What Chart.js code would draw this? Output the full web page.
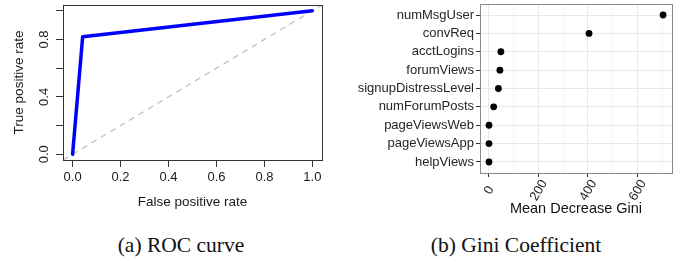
<!DOCTYPE html>
<html>
<head>
<meta charset="utf-8">
<script src="https://cdn.jsdelivr.net/npm/chart.js@4/dist/chart.umd.min.js"></script>
<style>
  body { margin: 0; background: #fff; }
  #page { position: relative; width: 686px; height: 262px; overflow: hidden; }
  .panel { position: absolute; top: 0; }
  .caption {
    position: absolute; top: 232px; height: 26px; line-height: 26px;
    font-family: "Liberation Serif", "DejaVu Serif", serif; font-size: 21.5px;
    color: #111; text-align: center; white-space: nowrap;
  }
</style>
</head>
<body>
<div id="page">
  <div class="panel" style="left:0;width:340px;height:220px"><canvas id="roc" width="340" height="220"></canvas></div>
  <div class="panel" style="left:340px;width:346px;height:220px"><canvas id="gini" width="346" height="220"></canvas></div>
  <div class="caption" style="left:81px;width:200px">(a) ROC curve</div>
  <div class="caption" style="left:396px;width:240px">(b) Gini Coefficient</div>
</div>
<script>
// ROC curve values
const rocFpr = [0, 0.042, 1];
const rocTpr = [0, 0.818, 1];
const chanceLine = [-0.04, 1.04];
const rocTicksX = [0, 0.2, 0.4, 0.6, 0.8, 1.0];
const rocTicksY = [0, 0.2, 0.4, 0.6, 0.8, 1.0];
const rocLabelsY = ["0.0", "", "0.4", "", "0.8", ""];

// variable importance
const features = ["numMsgUser", "convReq", "acctLogins", "forumViews", "signupDistressLevel",
  "numForumPosts", "pageViewsWeb", "pageViewsApp", "helpViews"];
const meanDecreaseGini = [704, 405, 49, 45, 39, 20, 1, 1, 1];
const giniTicks = [0, 100, 200, 300, 400, 500, 600, 700];

Chart.defaults.font.family = "'Liberation Sans', Arial, sans-serif";
Chart.defaults.color = "#1a1a1a";
Chart.defaults.animation = false;

// the chart libary only draws the left/bottom axis lines, so stroke the whole box
const boxPlugin = {
  id: "box",
  afterDatasetsDraw(chart, args, opts) {
    const a = chart.chartArea;
    const ctx = chart.ctx;
    ctx.save();
    ctx.strokeStyle = opts.color;
    ctx.lineWidth = opts.width;
    ctx.strokeRect(a.left + 0.5, a.top + 0.5, a.right - a.left, a.bottom - a.top);
    ctx.restore();
  }
};

function noPadding(s) {
  s.paddingTop = 0;
  s.paddingBottom = 0;
  s.paddingLeft = 0;
  s.paddingRight = 0;
}

// rotated labels are right-aligned by chart.js; pad "0" to the width of
// "200" (2 spaces = 1 digit) so every label is centred on its tick like ggplot
function giniLabel(v) {
  if (v % 200 !== 0) return "";
  return v === 0 ? "  0  " : String(v);
}

new Chart(document.getElementById("roc"), {
  type: "scatter",
  data: {
    datasets: [
      {
        data: rocFpr.map((x, i) => ({ x: x, y: rocTpr[i] })),
        showLine: true,
        borderColor: "#0000ff",
        borderWidth: 3.5,
        borderJoinStyle: "round",
        borderCapStyle: "round",
        pointRadius: 0
      },
      {
        data: chanceLine.map(v => ({ x: v, y: v })),
        showLine: true,
        borderColor: "#bdbdbd",
        borderWidth: 1.2,
        borderDash: [6, 5],
        pointRadius: 0
      }
    ]
  },
  options: {
    responsive: false,
    layout: { padding: { top: 5, right: 18, left: 0, bottom: 0 } },
    plugins: {
      legend: { display: false },
      tooltip: { enabled: false },
      box: { color: "#333", width: 1 }
    },
    scales: {
      x: {
        type: "linear",
        min: -0.04,
        max: 1.04,
        afterBuildTicks: s => { s.ticks = rocTicksX.map(v => ({ value: v })); },
        afterFit: s => { s.height = 60; noPadding(s); },
        ticks: { font: { size: 13 }, padding: 3, callback: v => v.toFixed(1), maxRotation: 0 },
        grid: { drawOnChartArea: false, tickLength: 7, tickColor: "#333" },
        border: { color: "#333" },
        title: { display: true, text: "False positive rate", font: { size: 13.5 }, padding: { top: 0, bottom: 10 } }
      },
      y: {
        type: "linear",
        min: -0.04,
        max: 1.04,
        afterBuildTicks: s => { s.ticks = rocTicksY.map(v => ({ value: v })); },
        afterFit: s => { s.width = 63; noPadding(s); },
        ticks: {
          font: { size: 13 },
          padding: 3,
          minRotation: 90,
          maxRotation: 90,
          crossAlign: "center",
          callback: (v, i) => rocLabelsY[i]
        },
        grid: { drawOnChartArea: false, tickLength: 7, tickColor: "#333" },
        border: { color: "#333" },
        title: { display: true, text: "True positive rate", font: { size: 13.5 }, padding: { top: 11, bottom: 0 } }
      }
    }
  },
  plugins: [boxPlugin]
});

new Chart(document.getElementById("gini"), {
  type: "scatter",
  data: {
    datasets: [{
      data: meanDecreaseGini.map((v, i) => ({ x: v, y: i })),
      pointRadius: 3.4,
      pointBackgroundColor: "#000",
      pointBorderWidth: 0
    }]
  },
  options: {
    responsive: false,
    layout: { padding: { top: 4, right: 14, left: 0, bottom: 0 } },
    plugins: {
      legend: { display: false },
      tooltip: { enabled: false },
      box: { color: "#8a8a8a", width: 1 }
    },
    scales: {
      x: {
        type: "linear",
        min: -35.3,
        max: 740,
        afterBuildTicks: s => { s.ticks = giniTicks.map(v => ({ value: v })); },
        afterFit: s => { s.height = 47; noPadding(s); },
        ticks: {
          font: { size: 13 },
          color: "#262626",
          padding: 0,
          minRotation: 60,
          maxRotation: 60,
          labelOffset: 6,
          callback: giniLabel
        },
        grid: {
          color: c => (c.tick && c.tick.value % 200 === 0 ? "#e8e8e8" : "#f3f3f3"),
          lineWidth: c => (c.tick && c.tick.value % 200 === 0 ? 1 : 0.7),
          tickColor: c => (c.tick && c.tick.value % 200 === 0 ? "#333" : "rgba(0,0,0,0)"),
          tickLength: 4
        },
        border: { display: false },
        title: { display: true, text: "Mean Decrease Gini", font: { size: 14.5 }, color: "#111", padding: { top: 0, bottom: 2 } }
      },
      y: {
        type: "linear",
        min: -0.6,
        max: 8.6,
        reverse: true,
        afterBuildTicks: s => { s.ticks = features.map((f, i) => ({ value: i })); },
        afterFit: s => { s.width = 140; noPadding(s); },
        ticks: { font: { size: 13 }, color: "#262626", padding: 2, callback: (v, i) => features[i] },
        grid: { color: "#e8e8e8", lineWidth: 1, tickColor: "#333", tickLength: 4 },
        border: { display: false }
      }
    }
  },
  plugins: [boxPlugin]
});
</script>
</body>
</html>
